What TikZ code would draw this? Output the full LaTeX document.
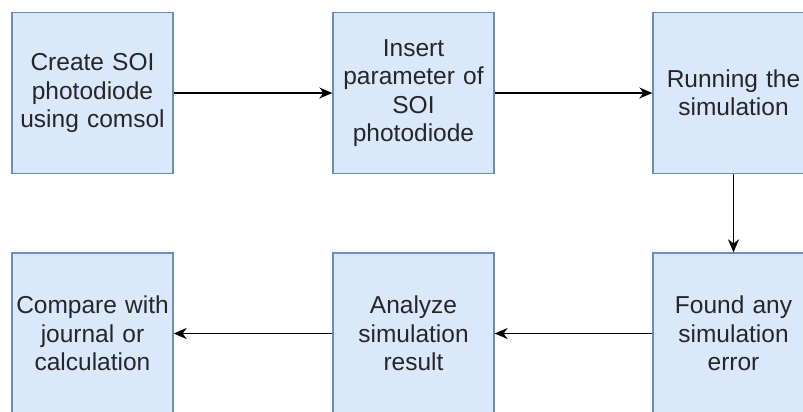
\documentclass[tikz,border=0pt]{standalone}
\usepackage{fontspec}
\setmainfont{Liberation Sans}
\usetikzlibrary{arrows.meta}

\definecolor{boxfill}{HTML}{DAE8FC}
\definecolor{boxline}{HTML}{6C8EBF}

\tikzset{stepbox/.style={draw=boxline, fill=boxfill, line width=1.3, minimum width=161, minimum height=161, inner sep=0, align=center, text width=160, text=black!85, font=\fontsize{24.5}{28.3}\selectfont}}

\begin{document}
\begin{tikzpicture}[x=1pt,y=-1pt,>={Stealth[length=13pt,width=11pt,inset=4pt]}]
\clip (0,0) rectangle (803,412);
\fill[white] (0,0) rectangle (803,412);

\node[stepbox] (create) at (92.5,93) {Create SOI\\photodiode\\using comsol};
\node[stepbox] (insert) at (413.5,93) {Insert\\parameter of\\SOI\\photodiode};
\node[stepbox] (run) at (733.5,93) {Running the\\simulation};
\node[stepbox] (found) at (733.5,333.5) {Found any\\simulation\\error};
\node[stepbox] (analyze) at (413.5,333.5) {Analyze\\simulation\\result};
\node[stepbox] (compare) at (92.5,333.5) {Compare with\\journal or\\calculation};

\draw[->, line width=1.5] (create) -- (insert) ; % top row
\draw[->, line width=1.5] (insert) -- (run) ;
\draw[->, line width=1.5] (run) -- (found) ; % down
\draw[->, line width=1.5] (found) -- (analyze) ; % bottom row
\draw[->, line width=1.5] (analyze) -- (compare) ;

\end{tikzpicture}
\end{document}
